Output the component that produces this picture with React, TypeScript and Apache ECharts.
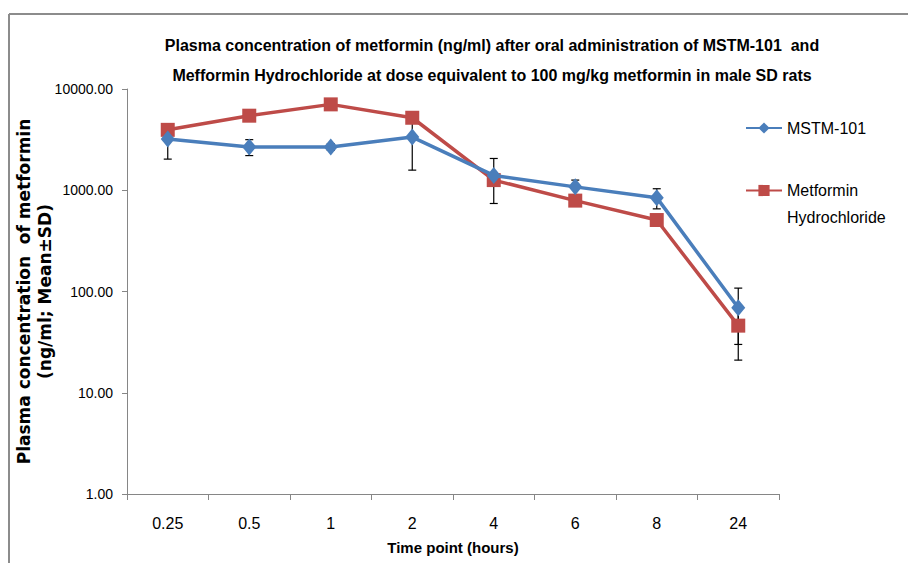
import React, { useEffect, useRef } from "react";
import * as echarts from "echarts";

const categories = ["0.25", "0.5", "1", "2", "4", "6", "8", "24"];
const mstmMean = [3200, 2680, 2680, 3350, 1400, 1080, 845, 69];
const mstmSD = [1170, 480, 200, 1770, 660, 180, 190, 39];
const metMean = [3950, 5450, 7050, 5200, 1260, 790, 508, 46];
const metSD = [300, 400, 500, 350, 120, 60, 40, 25];
const yTicks = [1, 10, 100, 1000, 10000];

const BLUE = "#4a7ebb";
const RED = "#be4b48";
const NARROW = "'Liberation Sans Narrow', 'Liberation Sans', sans-serif";

function errorSeries(mean: number[], sd: number[], z: number) {
  return {
    type: "custom",
    z,
    silent: true,
    data: mean.map((m, i) => [i, m + sd[i], m - sd[i]]),
    encode: { x: 0, y: [1, 2] },
    renderItem: (params: any, api: any) => {
      const i = api.value(0);
      const hi = api.coord([i, api.value(1)]);
      const lo = api.coord([i, api.value(2)]);
      const w = 4;
      const style = { stroke: "#000", lineWidth: 1.2 };
      return {
        type: "group",
        children: [
          { type: "line", shape: { x1: hi[0], y1: hi[1], x2: lo[0], y2: lo[1] }, style },
          { type: "line", shape: { x1: hi[0] - w, y1: hi[1], x2: hi[0] + w, y2: hi[1] }, style },
          { type: "line", shape: { x1: lo[0] - w, y1: lo[1], x2: lo[0] + w, y2: lo[1] }, style },
        ],
      };
    },
  };
}

export default function App() {
  const ref = useRef<HTMLDivElement>(null);
  useEffect(() => {
    if (!ref.current) return;
    const chart = echarts.init(ref.current, undefined, { renderer: "svg" });
    chart.setOption({
      animation: false,
      backgroundColor: "#fff",
      title: {
        text: "Plasma concentration of metformin (ng/ml) after oral administration of MSTM-101  and\nMefformin Hydrochloride at dose equivalent to 100 mg/kg metformin in male SD rats",
        left: 487,
        top: 25,
        textAlign: "center",
        textStyle: {
          fontFamily: NARROW,
          fontWeight: "bold",
          fontSize: 16,
          lineHeight: 30,
          color: "#000",
        },
      },
      legend: [
        {
          data: ["MSTM-101"],
          orient: "vertical",
          left: 745,
          top: 120,
          padding: 0,
          itemWidth: 36,
          itemHeight: 14,
          textStyle: { fontFamily: NARROW, fontSize: 16, color: "#000" },
        },
        {
          data: ["Metformin Hydrochloride"],
          orient: "vertical",
          left: 745,
          top: 150,
          padding: 0,
          itemWidth: 36,
          itemHeight: 14,
          formatter: () => "\nMetformin\nHydrochloride",
          textStyle: {
            fontFamily: NARROW,
            fontSize: 16,
            lineHeight: 27,
            color: "#000",
          },
        },
      ],
      grid: { left: 127, right: 129, top: 89, bottom: 69, outerBoundsMode: "none", containLabel: false },
      xAxis: {
        type: "category",
        data: categories,
        boundaryGap: true,
        name: "Time point (hours)",
        nameLocation: "middle",
        nameGap: 46,
        nameTextStyle: { fontFamily: NARROW, fontWeight: "bold", fontSize: 15, color: "#000" },
        axisLine: { lineStyle: { color: "#868686", width: 1 } },
        axisTick: { show: true, length: 6, lineStyle: { color: "#868686" } },
        axisLabel: { fontFamily: NARROW, fontSize: 16, color: "#000", margin: 21 },
        splitLine: { show: false },
      },
      yAxis: {
        type: "log",
        logBase: 10,
        min: yTicks[0],
        max: yTicks[yTicks.length - 1],
        name: "Plasma concentration  of metformin\n(ng/ml; Mean±SD)",
        nameLocation: "middle",
        nameRotate: 90,
        nameGap: 72,
        nameMoveOverlap: false,
        nameTextStyle: {
          fontFamily: "'DejaVu Sans', sans-serif",
          fontWeight: "bold",
          fontSize: 17,
          lineHeight: 21,
          color: "#000",
        },
        axisLine: { show: true, lineStyle: { color: "#868686", width: 1 } },
        axisTick: { show: true, length: 5, lineStyle: { color: "#868686" } },
        axisLabel: {
          fontFamily: NARROW,
          fontSize: 14,
          color: "#000",
          margin: 14,
          formatter: (v: number) => v.toFixed(2),
        },
        splitLine: { show: false },
      },
      graphic: [
        { type: "line", shape: { x1: 9, y1: 14, x2: 908, y2: 14 }, style: { stroke: "#8c8c8c", lineWidth: 2 } },
        { type: "line", shape: { x1: 9, y1: 14, x2: 9, y2: 563 }, style: { stroke: "#8c8c8c", lineWidth: 2 } },
      ],
      series: [
        errorSeries(mstmMean, mstmSD, 1),
        errorSeries(metMean, metSD, 1),
        {
          name: "MSTM-101",
          type: "line",
          z: 3,
          data: mstmMean,
          symbol: "diamond",
          symbolSize: [14, 17],
          itemStyle: { color: BLUE },
          lineStyle: { color: BLUE, width: 3.5 },
        },
        {
          name: "Metformin Hydrochloride",
          type: "line",
          z: 2,
          data: metMean,
          symbol: "rect",
          symbolSize: 14,
          itemStyle: { color: RED },
          lineStyle: { color: RED, width: 3.5 },
        },
      ],
    });
    return () => chart.dispose();
  }, []);
  return <div ref={ref} style={{ width: 908, height: 563, position: "absolute", left: 0, top: 0 }} />;
}
